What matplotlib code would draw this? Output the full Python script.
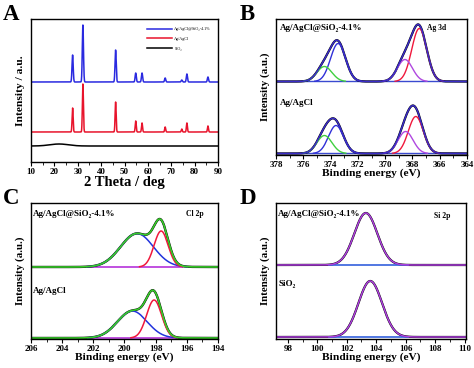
import numpy as np
import matplotlib
matplotlib.use("Agg")
from matplotlib import pyplot as plt

plt.rcParams['font.family'] = ['Liberation Serif', 'DejaVu Serif']
plt.rcParams['font.weight'] = 'bold'
plt.rcParams['axes.labelweight'] = 'bold'

W, H = 474, 368

# ---- panel A: XRD peaks (2theta, height) ----
xrd_pos = [27.8, 32.2, 46.2, 54.8, 57.5, 67.4, 74.5, 76.7, 85.7]
xrd_comp_h = [27, 57, 32, 9, 9, 4, 2, 8, 5]      # Ag/AgCl@SiO2-4.1%
xrd_agcl_h = [24, 48, 30, 11, 9, 5, 3, 9, 6]     # Ag/AgCl
xrd_sio2_bump = (22, 2.0, 4.0)                   # center, height, width
xrd_offsets = [80, 30, 16]
xrd_labels = ['Ag/AgCl@SiO\u2082-4.1%', 'Ag/AgCl', 'SiO\u2082']

# ---- panel B: Ag 3d components (center, height, sigma) ----
ag_top = {'blue': (373.45, 38, 0.55), 'green': (374.45, 15, 0.55),
          'red': (367.5, 53, 0.55), 'magenta': (368.55, 22, 0.55)}
ag_bot = {'blue': (373.6, 28, 0.55), 'green': (374.45, 18, 0.55),
          'red': (367.75, 37, 0.55), 'magenta': (368.5, 22, 0.55)}
ag_offsets = [73.5, 1.5]

# ---- panel C: Cl 2p components ----
cl_top = {'blue': (199.2, 33.5, 1.05), 'red': (197.65, 36, 0.45)}
cl_bot = {'blue': (199.5, 27, 0.95), 'red': (198.1, 38, 0.48)}
cl_offsets = [72, 1.0]

# ---- panel D: Si 2p ----
si_top = (103.3, 52, 0.78)
si_bot = (103.6, 56, 0.8)
si_offsets = [74, 2]


def gauss(x, c, h, s):
    return h * np.exp(-0.5 * ((x - c) / s) ** 2)


def fpos(px, py):
    return px / W, 1 - py / H


fig = plt.figure(figsize=(W / 100, H / 100), dpi=100)


def make_ax(l, t, r, b):
    ax = fig.add_axes([l / W, 1 - b / H, (r - l) / W, (b - t) / H])
    ax.set_yticks([])
    ax.tick_params(axis='x', direction='out', length=3, width=0.8, labelsize=6.5, pad=1)
    ax.tick_params(axis='x', which='minor', direction='out', length=1.8, width=0.6)
    for s in ax.spines.values():
        s.set_linewidth(1.0)
    for lab in ax.get_xticklabels():
        lab.set_fontweight('bold')
    return ax


# ================= A =================
axA = make_ax(31, 19, 218, 162)
x = np.linspace(10, 90, 4000)
comp = xrd_offsets[0] + sum(gauss(x, c, h, 0.25) for c, h in zip(xrd_pos, xrd_comp_h))
agcl = xrd_offsets[1] + sum(gauss(x, c, h, 0.22) for c, h in zip(xrd_pos, xrd_agcl_h))
sio2 = xrd_offsets[2] + gauss(x, *xrd_sio2_bump)
axA.plot(x, comp, color='#2a2ae0', lw=1.1, label=xrd_labels[0])
axA.plot(x, agcl, color='#e8142c', lw=1.1, label=xrd_labels[1])
axA.plot(x, sio2, color='black', lw=1.1, label=xrd_labels[2])
axA.set_xlim(10, 90)
axA.set_ylim(0, 143)
axA.set_xticks(range(10, 91, 10))
axA.set_xticks(range(15, 90, 10), minor=True)
axA.set_xlabel('2 Theta / deg', fontsize=10.5, labelpad=0)
axA.set_ylabel('Intensity / a.u.', fontsize=8.2, labelpad=4)
leg = axA.legend(loc='upper left', bbox_to_anchor=(0.6, 0.97), fontsize=3, frameon=False,
                 handlelength=6, handletextpad=0.6, labelspacing=1.4)
for t in leg.get_texts():
    t.set_fontweight('normal')

# ================= B =================
axB = make_ax(276, 19, 467, 155)
x = np.linspace(364, 378, 1500)
bcols = {'blue': '#3030d8', 'green': '#40d040', 'red': '#f0183c', 'magenta': '#b048e0'}
for comps, off in zip([ag_top, ag_bot], ag_offsets):
    env = off + sum(gauss(x, *p) for p in comps.values())
    axB.plot(x, np.full_like(x, off), color='#3a4ad0', lw=1.0)
    axB.plot(x, env, color='black', lw=1.6)
    for k, p in comps.items():
        y = off + gauss(x, *p)
        m = y > off + 0.3
        axB.plot(x[m], y[m], color=bcols[k], lw=1.0)
    axB.plot(x, env, color='#3a2cc8', lw=1.1)
axB.set_xlim(378, 364)
axB.set_ylim(0, 136)
axB.set_xticks(range(378, 363, -2))
axB.set_xticks(range(377, 364, -2), minor=True)
axB.set_xlabel('Binding energy (eV)', fontsize=8.2, labelpad=0)
axB.set_ylabel('Intensity (a.u.)', fontsize=7.8, labelpad=4)

# ================= C =================
axC = make_ax(31, 203, 218, 339)
x = np.linspace(194, 206, 1500)
for comps, off in zip([cl_top, cl_bot], cl_offsets):
    env = off + sum(gauss(x, *p) for p in comps.values())
    m = (x > 196.3) & (x < 202.5)
    axC.plot(x[m], np.full(m.sum(), off), color='#c050e0', lw=1.4)
    axC.plot(x, env, color='black', lw=1.7)
    for k, p in comps.items():
        y = off + gauss(x, *p)
        mm = y > off + 0.3
        axC.plot(x[mm], y[mm], color='#2233dd' if k == 'blue' else '#f0183c', lw=1.1)
    axC.plot(x, env, color='#38cc2a', lw=1.2)
axC.set_xlim(206, 194)
axC.set_ylim(0, 136)
axC.set_xticks(range(206, 193, -2))
axC.set_xticks(range(205, 194, -2), minor=True)
axC.set_xlabel('Binding energy (eV)', fontsize=8.2, labelpad=0)
axC.set_ylabel('Intensity (a.u.)', fontsize=7.8, labelpad=4)

# ================= D =================
axD = make_ax(276, 203, 466, 339)
x = np.linspace(97.2, 110.1, 1500)
for p, off in zip([si_top, si_bot], si_offsets):
    y = off + gauss(x, *p)
    m = (x > 100.8) & (x < 106.2)
    axD.plot(x, y, color='black', lw=1.6)
    axD.plot(x[m], np.full(m.sum(), off), color='#3360dd', lw=1.2)
    axD.plot(x, y, color='#b040e0', lw=1.1)
axD.set_xlim(97.2, 110.1)
axD.set_ylim(0, 136)
axD.set_xticks(range(98, 111, 2))
axD.set_xticks(range(99, 110, 2), minor=True)
axD.set_xlabel('Binding energy (eV)', fontsize=8.2, labelpad=0)
axD.set_ylabel('Intensity (a.u.)', fontsize=7.8, labelpad=4)

# ---- in-panel texts ----
name = 'Ag/AgCl@SiO\u2082-4.1%'
fig.text(*fpos(280, 28), name, fontsize=6.5, va='center', ha='left')
fig.text(*fpos(427, 28), 'Ag 3d', fontsize=5.5, va='center', ha='left')
fig.text(*fpos(280, 103), 'Ag/AgCl', fontsize=6.5, va='center', ha='left')
fig.text(*fpos(33, 214), name, fontsize=6.5, va='center', ha='left')
fig.text(*fpos(186, 214), 'Cl 2p', fontsize=5.5, va='center', ha='left')
fig.text(*fpos(33, 291), 'Ag/AgCl', fontsize=6.5, va='center', ha='left')
fig.text(*fpos(278, 214), name, fontsize=6.5, va='center', ha='left')
fig.text(*fpos(434, 216), 'Si 2p', fontsize=5.5, va='center', ha='left')
fig.text(*fpos(279, 284), 'SiO\u2082', fontsize=6.5, va='center', ha='left')

# ---- panel letters ----
for lab, px, py in [('A', 3, 20), ('B', 240, 20), ('C', 3, 204), ('D', 240, 204)]:
    fig.text(*fpos(px, py), lab, fontsize=16.5, fontweight='bold', va='baseline', ha='left')

fig.savefig('out.png', dpi=100)
